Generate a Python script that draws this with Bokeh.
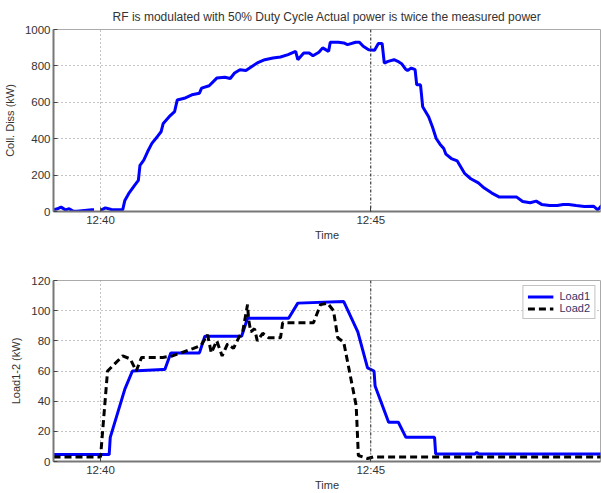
from bokeh.plotting import figure
from bokeh.layouts import column
from bokeh.models import FixedTicker, Span, Legend, LegendItem
from bokeh.embed import file_html
from bokeh.resources import INLINE

nan = float("nan")

# time in minutes after 12:00
x_ticks = [40, 45]
x_tick_labels = ["12:40", "12:45"]
marker_time = [45]

coll_t = [39.13, 39.20, 39.27, 39.35, 39.42, 39.49, 39.56, 39.84, 39.88, 39.93, 40.00, 40.09, 40.20,
          40.41, 40.45, 40.52, 40.63, 40.70, 40.73, 40.80, 40.87, 40.95, 41.05, 41.12, 41.16, 41.27,
          41.37, 41.42, 41.55, 41.69, 41.83, 41.87, 42.01, 42.15, 42.30, 42.40, 42.48, 42.58, 42.69,
          42.80, 42.90, 43.04, 43.19, 43.33, 43.47, 43.61, 43.65, 43.76, 43.86, 43.93, 44.04, 44.11,
          44.22, 44.25, 44.40, 44.50, 44.57, 44.72, 44.79, 44.86, 44.96, 45.07, 45.14, 45.21, 45.25,
          45.32, 45.43, 45.50, 45.57, 45.64, 45.68, 45.75, 45.82, 45.85, 45.92, 45.96, 46.07, 46.14,
          46.21, 46.28, 46.35, 46.39, 46.49, 46.60, 46.74, 46.85, 46.99, 47.10, 47.24, 47.38, 47.56,
          47.70, 47.81, 47.95, 48.06, 48.16, 48.31, 48.45, 48.56, 48.66, 48.80, 48.95, 49.12, 49.20,
          49.27]
coll_kw = [9, 15, 24, 9, 15, 2, 2, 9, 9, nan, 6, 20, 11,
           9, 61, 98, 144, 171, 254, 282, 328, 374, 411, 438, 484, 521,
           549, 613, 622, 641, 650, 678, 691, 733, 738, 731, 761, 779, 775,
           797, 816, 834, 843, 849, 862, 880, 834, 871, 871, 856, 875, 899,
           880, 930, 930, 926, 917, 930, 930, 908, 889, 886, 923, 923, 815,
           825, 834, 825, 812, 783, 775, 788, 779, 696, 696, 576, 521, 466,
           401, 370, 346, 315, 291, 278, 208, 180, 157, 129, 101, 79, 79,
           79, 55, 48, 57, 39, 33, 33, 39, 39, 33, 28, 29, 9,
           33]

load1_t = [39.13, 40.16, 40.18, 40.45, 40.59, 41.15, 41.19, 41.30, 41.83, 41.93, 42.61, 42.72,
           43.48, 43.65, 44.50, 44.76, 44.94, 45.06, 45.08, 45.33, 45.51, 45.65, 46.18, 46.20,
           46.93, 46.96, 47.00, 49.27]
load1_kw = [4.6, 4.6, 16, 48, 60, 61, 61, 72, 72, 83, 83, 95,
            95, 105, 106, 86, 62, 60, 50, 26, 26, 16, 16, 5,
            5, 6, 5, 5]

load2_t = [39.13, 40.00, 40.13, 40.41, 40.55, 40.66, 40.76, 41.15, 41.33, 41.72, 41.86, 41.98,
           42.05, 42.15, 42.25, 42.35, 42.46, 42.57, 42.63, 42.72, 42.74, 42.78, 42.85, 42.90,
           43.00, 43.11, 43.33, 43.37, 43.94, 44.07, 44.20, 44.31, 44.39, 44.50, 44.73, 44.77,
           44.94, 45.05, 49.27]
load2_kw = [3, 3, 60, 70, 68, 60, 69, 69, 70, 75, 77, 84,
            72, 80, 70, 78, 75, 83, 86, 104, 94, 86, 88, 80,
            85, 82, 82, 92, 92, 104, 105, 100, 82, 79, 37, 4,
            2, 3, 3]

top_ticks = [0, 200, 400, 600, 800, 1000]
bot_ticks = [0, 20, 40, 60, 80, 100, 120]

title_text = "RF is modulated with 50% Duty Cycle Actual power is twice the measured power"

FONT = "Liberation Sans"
TXT = "#333333"
XR = (39.13, 49.25)


def style(p, yticks, ylabel):
    p.xaxis.ticker = FixedTicker(ticks=x_ticks)
    p.xaxis.major_label_overrides = {t: l for t, l in zip(x_ticks, x_tick_labels)}
    p.yaxis.ticker = FixedTicker(ticks=yticks)
    p.xaxis.axis_label = "Time"
    p.yaxis.axis_label = ylabel
    for ax in (p.xaxis, p.yaxis):
        ax.axis_label_text_font = FONT
        ax.axis_label_text_font_style = "normal"
        ax.axis_label_text_font_size = "11px"
        ax.axis_label_text_color = TXT
        ax.major_label_text_font = FONT
        ax.major_label_text_font_size = "11.5px"
        ax.major_label_text_color = TXT
        ax.axis_line_color = "#777777"
        ax.axis_line_width = 2
        ax.major_tick_in = 4
        ax.major_tick_out = 0
        ax.major_tick_line_color = "#444444"
        ax.minor_tick_line_color = None
    p.xaxis.major_label_standoff = 2
    p.xaxis.axis_label_standoff = 0
    p.yaxis.major_label_standoff = 3
    p.yaxis.axis_label_standoff = 6
    p.xgrid.ticker = FixedTicker(ticks=x_ticks)
    p.ygrid.ticker = FixedTicker(ticks=yticks)
    p.grid.grid_line_color = "#888888"
    p.grid.grid_line_dash = "1 3"
    p.grid.grid_line_width = 1
    p.outline_line_color = "#aaaaaa"
    p.outline_line_width = 1
    p.add_layout(Span(location=marker_time[0], dimension="height", line_color="#222222",
                      line_dash="3 2 1 2", line_width=1))


p1 = figure(width=601, height=250, x_range=XR, y_range=(0, 1000), output_backend="svg",
            toolbar_location=None, min_border_left=52, min_border_right=1,
            min_border_top=29, min_border_bottom=39)
p1.title.text = title_text
p1.title.text_font = FONT
p1.title.text_font_size = "12px"
p1.title.text_font_style = "normal"
p1.title.text_color = TXT
p1.title.align = "center"
p1.title.standoff = 11
style(p1, top_ticks, "Coll. Diss (kW)")
p1.line(coll_t, coll_kw, line_color="#0000ff", line_width=3)

p2 = figure(width=601, height=243, x_range=XR, y_range=(0, 120), output_backend="svg",
            toolbar_location=None, min_border_left=52, min_border_right=1,
            min_border_top=30, min_border_bottom=32)
style(p2, bot_ticks, "Load1-2 (kW)")
r1 = p2.line(load1_t, load1_kw, line_color="#0000ff", line_width=3)
r2 = p2.line(load2_t, load2_kw, line_color="#000000", line_width=3, line_dash="7 4")
leg = Legend(items=[LegendItem(label="Load1", renderers=[r1]),
                    LegendItem(label="Load2", renderers=[r2])],
             location="top_right")
leg.label_text_font = FONT
leg.label_text_font_size = "11px"
leg.label_text_color = "#333366"
leg.border_line_color = "#888888"
leg.glyph_width = 26
leg.glyph_height = 11
leg.label_height = 11
leg.spacing = 0
leg.padding = 4
leg.margin = 5
leg.label_standoff = 6
p2.add_layout(leg)

layout = column(p1, p2, spacing=0)
open("out.html", "w").write(file_html(layout, INLINE))
